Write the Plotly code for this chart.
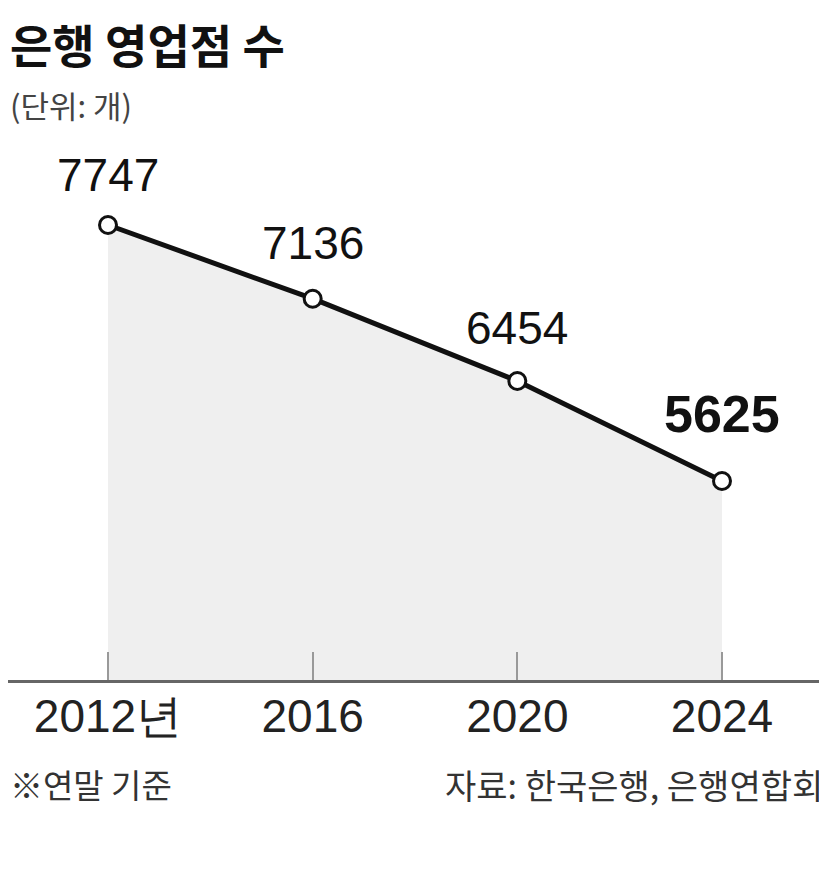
import plotly.graph_objects as go

years = [2012, 2016, 2020, 2024]
branches = [7747, 7136, 6454, 5625]
tick_labels = ["2012년", "2016", "2020", "2024"]
title = "은행 영업점 수"
unit = "(단위: 개)"
note = "※연말 기준"
source = "자료: 한국은행, 은행연합회"

# page body has an 8px margin; figure is sized so it fits the 827x890 window
OFF = 8
W, H = 827 - OFF, 890 - OFF
T = 140 - OFF          # plot top (page y=140)
B = H - (680 - OFF)    # plot bottom at page y=680
PH = H - T - B

def py(page_y):
    return (H - B - (page_y - OFF)) / PH

px_per_year = 614 / 12
x0 = 2012 - (108 - OFF) / px_per_year
x1 = 2012 + (827 - 108) / px_per_year

KR = "Noto Sans CJK KR"
NUM = "Liberation Sans Narrow, Liberation Sans, Arial, sans-serif"

fig = go.Figure()
fig.add_trace(go.Scatter(
    x=years, y=branches, mode="lines+markers",
    fill="tozeroy", fillcolor="#efefef",
    line=dict(color="#111111", width=5),
    marker=dict(size=17, color="white", line=dict(color="#111111", width=3)),
    hoverinfo="skip", showlegend=False,
))

shifts = [50, 56, 53, 67]
for i, (x, y) in enumerate(zip(years, branches)):
    last = i == len(years) - 1
    fig.add_annotation(
        x=x, y=y, text=f"<b>{y}</b>" if last else str(y),
        showarrow=False, yshift=shifts[i], xanchor="center", yanchor="middle",
        font=dict(family=NUM, size=52 if last else 46, color="#111111"),
    )

fig.add_annotation(xref="paper", yref="paper", x=0.0, y=py(OFF), text=f"<b>{title}</b>",
                   showarrow=False, xanchor="left", yanchor="top",
                   font=dict(family=KR, size=46, color="#111111"))
fig.add_annotation(xref="paper", yref="paper", x=0.0, y=py(104), text=unit,
                   showarrow=False, xanchor="left", yanchor="middle",
                   font=dict(family=KR, size=31, color="#444444"))
fig.add_annotation(xref="paper", yref="paper", x=0.0, y=py(784), text=note,
                   showarrow=False, xanchor="left", yanchor="middle",
                   font=dict(family=KR, size=33, color="#333333"))
fig.add_annotation(xref="paper", yref="paper", x=1.0, y=py(784), text=source,
                   showarrow=False, xanchor="right", yanchor="middle", xshift=-2,
                   font=dict(family=KR, size=34, color="#333333"))

fig.update_xaxes(
    range=[x0, x1], tickmode="array", tickvals=years, ticktext=tick_labels,
    ticks="inside", ticklen=28, tickwidth=1.5, tickcolor="#999999",
    showline=True, linecolor="#666666", linewidth=2.5,
    showgrid=False, zeroline=False, ticklabelstandoff=-6,
    tickfont=dict(family=NUM, size=46, color="#222222"),
)
fig.update_yaxes(range=[3975.5, 8451.6], visible=False, showgrid=False, zeroline=False)

fig.update_layout(
    width=W, height=H, margin=dict(l=0, r=0, t=T, b=B),
    paper_bgcolor="white", plot_bgcolor="white",
)
fig.write_html("out.html")
